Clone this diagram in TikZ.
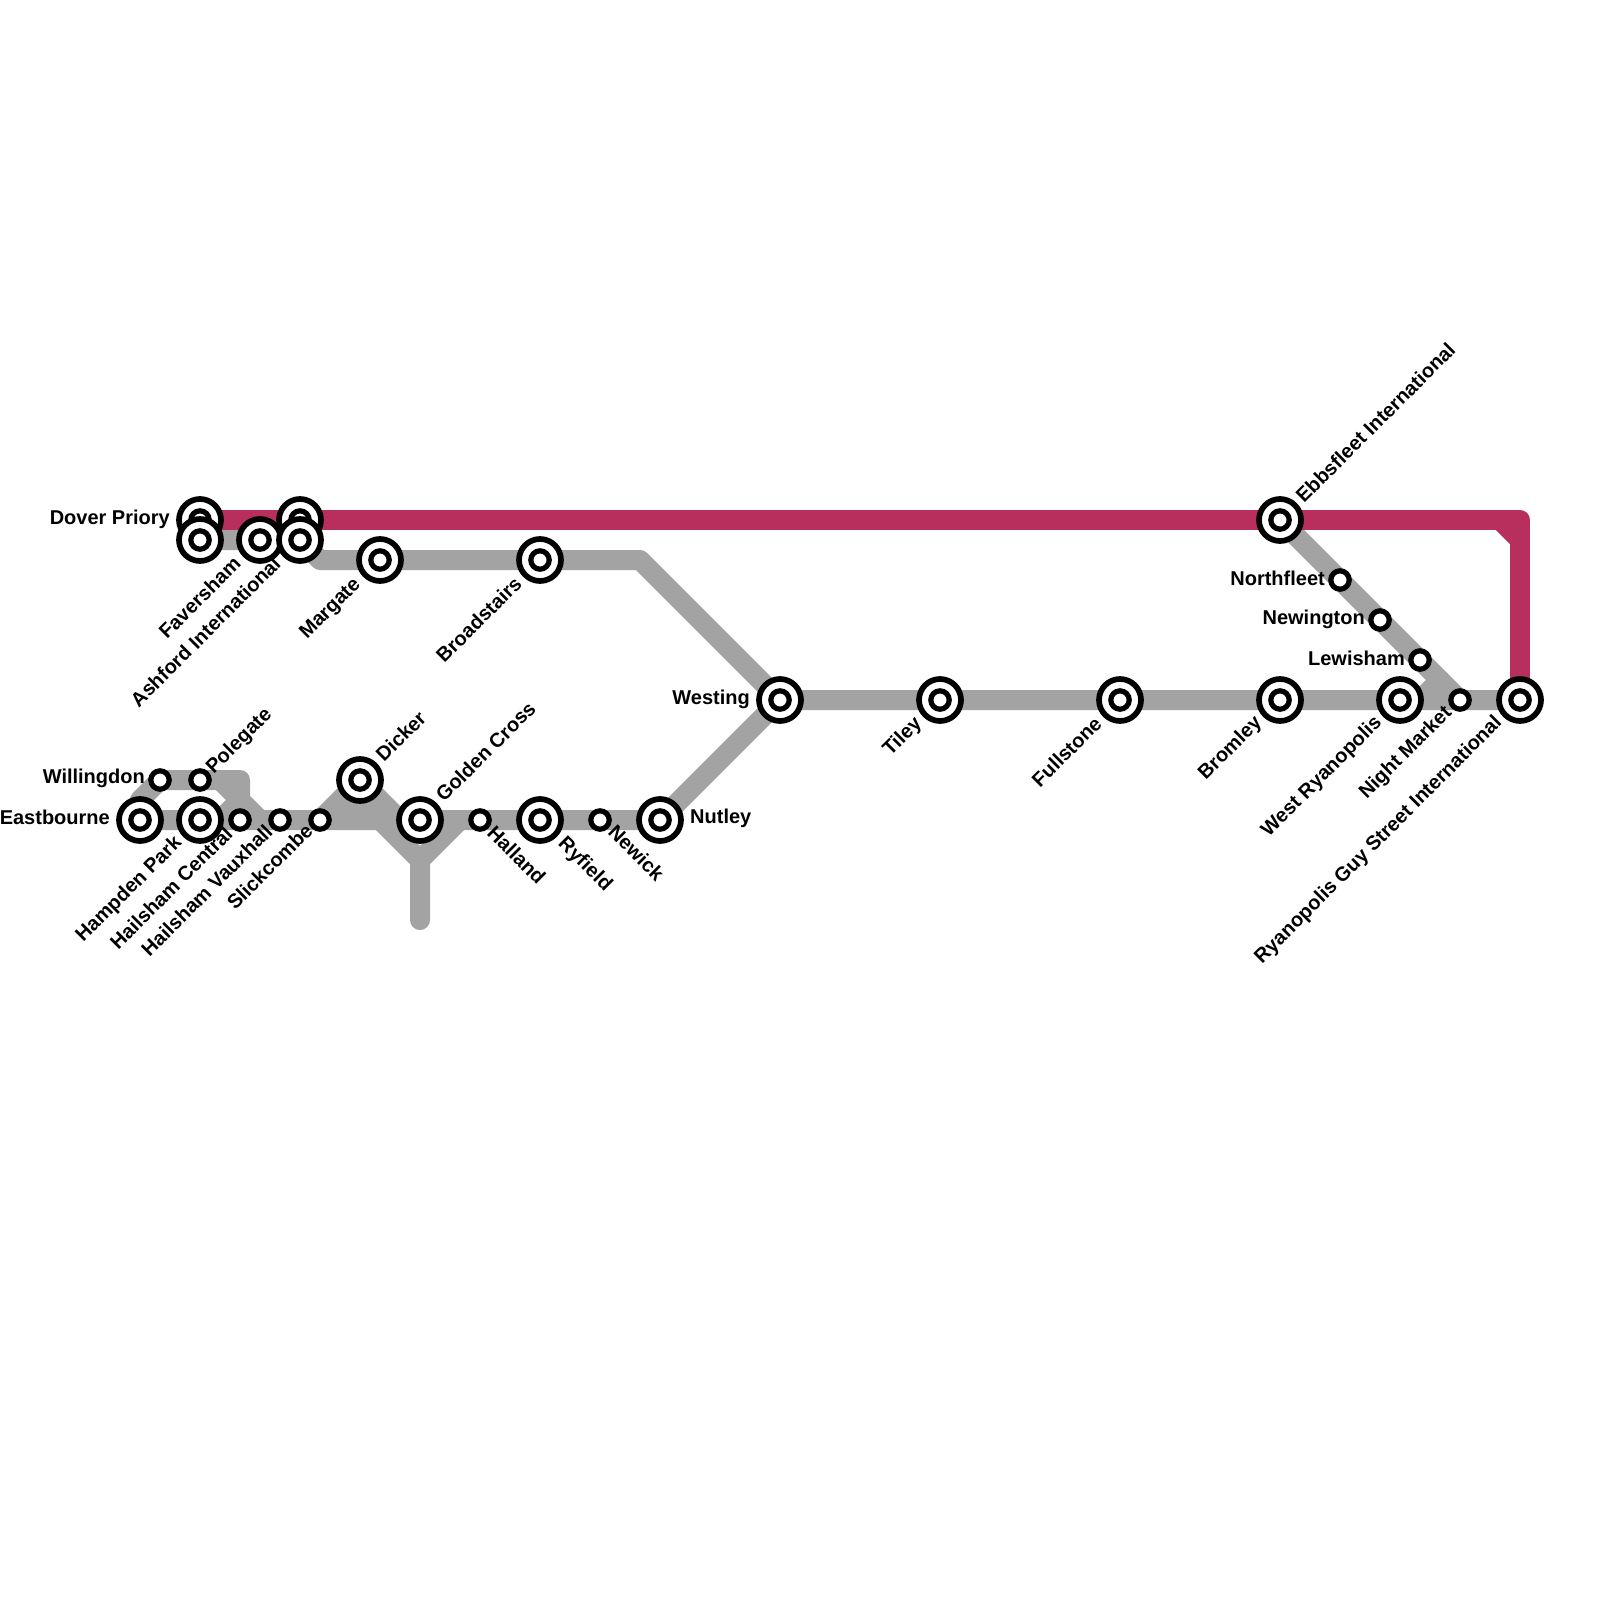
\documentclass[tikz,border=0pt]{standalone}
\usepackage{fontspec}
\setmainfont{Liberation Sans}
\usetikzlibrary{backgrounds}
\definecolor{linegrey}{HTML}{A3A3A3}
\definecolor{linered}{HTML}{B82E5C}
\tikzset{
  x=1pt,y=-1pt,
  track/.style={line width=20pt,line join=round,line cap=round},
  greytrack/.style={track,draw=linegrey},
  redtrack/.style={track,draw=linered},
  bigouter/.style={circle,draw=black,fill=white,line width=5.7pt,minimum size=42pt,inner sep=0pt},
  biginner/.style={circle,draw=black,fill=white,line width=5.2pt,minimum size=18.4pt,inner sep=0pt},
  smallst/.style={circle,draw=black,fill=white,line width=5.2pt,minimum size=18.4pt,inner sep=0pt},
  lab/.style={font=\fontsize{20}{22}\selectfont\bfseries,inner sep=0pt,text=black},
  labL/.style={lab,anchor=east},
  labR/.style={lab,anchor=west},
  labUR/.style={lab,anchor=west,rotate=45},
  labDL/.style={lab,anchor=east,rotate=45},
  labDR/.style={lab,anchor=west,rotate=-45},
}
\newcommand{\bigstn}[3]{\node[bigouter] (#1) at (#2,#3) {}; \node[biginner] (#1-in) at (#2,#3) {};}
\newcommand{\smallstn}[3]{\node[smallst] (#1) at (#2,#3) {};}
\begin{document}
\begin{tikzpicture}
\useasboundingbox (0,0) rectangle (1600,1600);
% bends
\coordinate (b1) at (320,560);
\coordinate (b2) at (640,560);
\coordinate (b3) at (1520,520);
\coordinate (b4) at (1500,520);
\coordinate (b5) at (1520,540);
\coordinate (b6) at (140,800);
\coordinate (b7) at (220,780);
\coordinate (b8) at (240,800);
\coordinate (b9) at (220,820);
\coordinate (b10) at (240,780);
\coordinate (b11) at (260,820);
\coordinate (b12) at (380,820);
\coordinate (b13) at (420,860);
\coordinate (b14) at (420,920);
\coordinate (b15) at (460,820);
\coordinate (b16) at (400,820);
\coordinate (b17) at (1440,680);
\coordinate (b18) at (1420,700);
% stations
\bigstn{doverpriory}{200}{520}
\bigstn{st2}{200}{540}
\bigstn{faversham}{260}{540}
\bigstn{st4}{300}{520}
\bigstn{ashford}{300}{540}
\bigstn{margate}{380}{560}
\bigstn{broadstairs}{540}{560}
\bigstn{westing}{780}{700}
\bigstn{tiley}{940}{700}
\bigstn{fullstone}{1120}{700}
\bigstn{bromley}{1280}{700}
\bigstn{westry}{1400}{700}
\bigstn{ryanguy}{1520}{700}
\bigstn{ebbsfleet}{1280}{520}
\smallstn{nightmarket}{1460}{700}
\smallstn{northfleet}{1340}{580}
\smallstn{newington}{1380}{620}
\smallstn{lewisham}{1420}{660}
\bigstn{eastbourne}{140}{820}
\bigstn{hampden}{200}{820}
\smallstn{hailshamc}{240}{820}
\smallstn{hailshamv}{280}{820}
\smallstn{slickcombe}{320}{820}
\bigstn{dicker}{360}{780}
\bigstn{goldencross}{420}{820}
\smallstn{halland}{480}{820}
\bigstn{ryfield}{540}{820}
\smallstn{newick}{600}{820}
\bigstn{nutley}{660}{820}
\smallstn{willingdon}{160}{780}
\smallstn{polegate}{200}{780}
% tracks
\begin{scope}[on background layer]
\fill[white] (0,0) rectangle (1600,1600);
\draw[greytrack] (st2.center) -- (faversham.center) -- (ashford.center) -- (b1) -- (margate.center) -- (broadstairs.center) -- (b2) -- (westing.center) -- (tiley.center) -- (fullstone.center) -- (bromley.center) -- (westry.center) -- (nightmarket.center) -- (ryanguy.center);
\draw[greytrack] (ebbsfleet.center) -- (northfleet.center) -- (newington.center) -- (lewisham.center) -- (nightmarket.center);
\draw[greytrack] (b17) -- (b18);
\draw[greytrack] (westing.center) -- (nutley.center) -- (newick.center) -- (ryfield.center) -- (halland.center) -- (goldencross.center) -- (slickcombe.center) -- (hailshamv.center) -- (hailshamc.center) -- (hampden.center) -- (eastbourne.center);
\draw[greytrack] (eastbourne.center) -- (b6) -- (willingdon.center) -- (polegate.center) -- (b10) -- (b8) -- (b11);
\draw[greytrack] (b7) -- (b8) -- (b9);
\draw[greytrack] (slickcombe.center) -- (dicker.center) -- (b16);
\draw[greytrack] (b12) -- (b13) -- (b14);
\draw[greytrack] (b15) -- (b13);
\fill[linegrey] (330,800) rectangle (390,830);
\draw[redtrack] (doverpriory.center) -- (st4.center) -- (ebbsfleet.center) -- (b3) -- (ryanguy.center);
\draw[redtrack] (b4) -- (b5);
\end{scope}
% labels
\node[labL] (l1) at (170,519) {Dover Priory};
\node[labDL] (l2) at (237,560) {Faversham};
\node[labDL] (l3) at (277,560) {Ashford International};
\node[labDL] (l4) at (358,582) {Margate};
\node[labDL] (l5) at (518,580) {Broadstairs};
\node[labL] (l6) at (750,699) {Westing};
\node[labDL] (l7) at (919,721) {Tiley};
\node[labDL] (l8) at (1098,720) {Fullstone};
\node[labDL] (l9) at (1259,720) {Bromley};
\node[labDL] (l10) at (1379,720) {West Ryanopolis};
\node[labDL] (l11) at (1449,710) {Night Market};
\node[labDL] (l12) at (1499,720) {Ryanopolis Guy Street International};
\node[labUR] (l13) at (1299,499) {Ebbsfleet International};
\node[labL] (l14) at (1325,578) {Northfleet};
\node[labL] (l15) at (1365,619) {Newington};
\node[labL] (l16) at (1405,658) {Lewisham};
\node[labL] (l17) at (110,817) {Eastbourne};
\node[labDL] (l18) at (179,840) {Hampden Park};
\node[labDL] (l19) at (229,830) {Hailsham Central};
\node[labDL] (l20) at (269,828) {Hailsham Vauxhall};
\node[labDL] (l21) at (309,827) {Slickcombe};
\node[labUR] (l22) at (379,758) {Dicker};
\node[labUR] (l23) at (439,798) {Golden Cross};
\node[labDR] (l24) at (491,829) {Halland};
\node[labDR] (l25) at (561,841) {Ryfield};
\node[labDR] (l26) at (612,828) {Newick};
\node[labR] (l27) at (690,818) {Nutley};
\node[labL] (l28) at (145,778) {Willingdon};
\node[labUR] (l29) at (210,771) {Polegate};
\end{tikzpicture}
\end{document}
